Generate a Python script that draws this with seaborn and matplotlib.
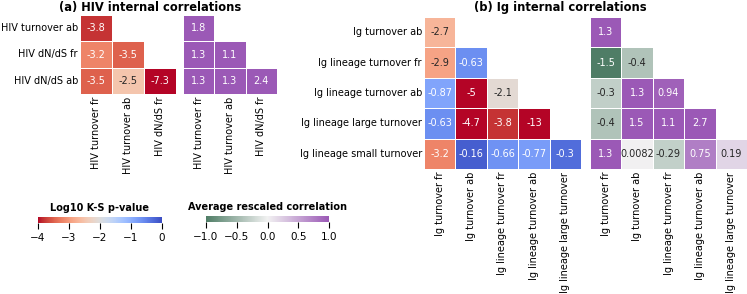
import numpy as np
import pandas as pd
import matplotlib
matplotlib.use("Agg")
import matplotlib.pyplot as plt
import seaborn as sns
from matplotlib.colors import LinearSegmentedColormap

nan = np.nan

# ---- HIV variables ----
hiv_rows = ["HIV turnover ab", "HIV dN/dS fr", "HIV dN/dS ab"]
hiv_cols = ["HIV turnover fr", "HIV turnover ab", "HIV dN/dS fr"]
hiv_ks = [[-3.8, nan, nan],
          [-3.2, -3.5, nan],
          [-3.5, -2.5, -7.3]]
hiv_corr = [[1.8, nan, nan],
            [1.3, 1.1, nan],
            [1.3, 1.3, 2.4]]

# ---- Ig variables ----
ig_rows = ["Ig turnover ab", "Ig lineage turnover fr", "Ig lineage turnover ab",
           "Ig lineage large turnover", "Ig lineage small turnover"]
ig_cols = ["Ig turnover fr", "Ig turnover ab", "Ig lineage turnover fr",
           "Ig lineage turnover ab", "Ig lineage large turnover"]
ig_ks = [[-2.7, nan, nan, nan, nan],
         [-2.9, -0.63, nan, nan, nan],
         [-0.87, -5, -2.1, nan, nan],
         [-0.63, -4.7, -3.8, -13, nan],
         [-3.2, -0.16, -0.66, -0.77, -0.3]]
ig_corr = [[1.3, nan, nan, nan, nan],
           [-1.5, -0.4, nan, nan, nan],
           [-0.3, 1.3, 0.94, nan, nan],
           [-0.4, 1.5, 1.1, 2.7, nan],
           [1.3, 0.0082, -0.29, 0.75, 0.19]]

ks_cmap = "coolwarm_r"
corr_cmap = LinearSegmentedColormap.from_list(
    "gp", ["#4f7d66", "#f2f2f2", "#9b59b6"])

fig = plt.figure(figsize=(7.47, 2.94), dpi=100)

W, H = 747, 294


def px_axes(x0, y0, x1, y1):
    # pixel box (top-left origin) -> figure axes
    return fig.add_axes([x0 / W, 1 - y1 / H, (x1 - x0) / W, (y1 - y0) / H])


cb_ks_ax = px_axes(38, 217, 162, 223)
cb_corr_ax = px_axes(206, 216, 329, 222)

kw = dict(annot=True, fmt=".2g", linewidths=0.6, linecolor="white",
          annot_kws={"fontsize": 7})


def draw(ax, vals, rows, cols, kind, show_rows, cbar_ax=None):
    df = pd.DataFrame(vals, index=rows, columns=cols)
    if kind == "ks":
        extra = dict(cmap=ks_cmap, vmin=-4, vmax=0)
    else:
        extra = dict(cmap=corr_cmap, vmin=-1, vmax=1)
    if cbar_ax is not None:
        sns.heatmap(df, ax=ax, cbar=True, cbar_ax=cbar_ax,
                    cbar_kws={"orientation": "horizontal"}, **extra, **kw)
    else:
        sns.heatmap(df, ax=ax, cbar=False, **extra, **kw)
    ax.tick_params(length=0, labelsize=7, pad=2)
    ax.tick_params(axis="y", pad=1.5)
    ax.set_xticklabels(cols, rotation=90)
    if show_rows:
        ax.set_yticklabels(rows, rotation=0)
    else:
        ax.set_yticks([])
    ax.set_xlabel("")
    ax.set_ylabel("")


ax1 = px_axes(80, 15, 176, 94)
ax2 = px_axes(183, 15, 277, 94)
ax3 = px_axes(424, 17, 581, 169)
ax4 = px_axes(590, 17, 747, 169)

draw(ax1, hiv_ks, hiv_rows, hiv_cols, "ks", True, cbar_ax=cb_ks_ax)
draw(ax2, hiv_corr, hiv_rows, hiv_cols, "corr", False, cbar_ax=cb_corr_ax)
draw(ax3, ig_ks, ig_rows, ig_cols, "ks", True)
draw(ax4, ig_corr, ig_rows, ig_cols, "corr", False)

for cax, title, ticks in [(cb_ks_ax, "Log10 K-S p-value", [-4, -3, -2, -1, 0]),
                          (cb_corr_ax, "Average rescaled correlation",
                           [-1.0, -0.5, 0.0, 0.5, 1.0])]:
    cax.set_title(title, fontsize=7, fontweight="bold", pad=4)
    cax.set_xticks(ticks)
    cax.tick_params(labelsize=7.5, length=4, width=0.8)
    for s in cax.spines.values():
        s.set_visible(False)
cb_corr_ax.set_xticklabels(["\u22121.0", "\u22120.5", "0.0", "0.5", "1.0"])

fig.text(150 / W, 1 - 8 / H, "(a) HIV internal correlations",
         ha="center", va="center", fontsize=8.3, fontweight="bold")
fig.text(560 / W, 1 - 8 / H, "(b) Ig internal correlations",
         ha="center", va="center", fontsize=8.3, fontweight="bold")

fig.savefig("out.png", dpi=100)
